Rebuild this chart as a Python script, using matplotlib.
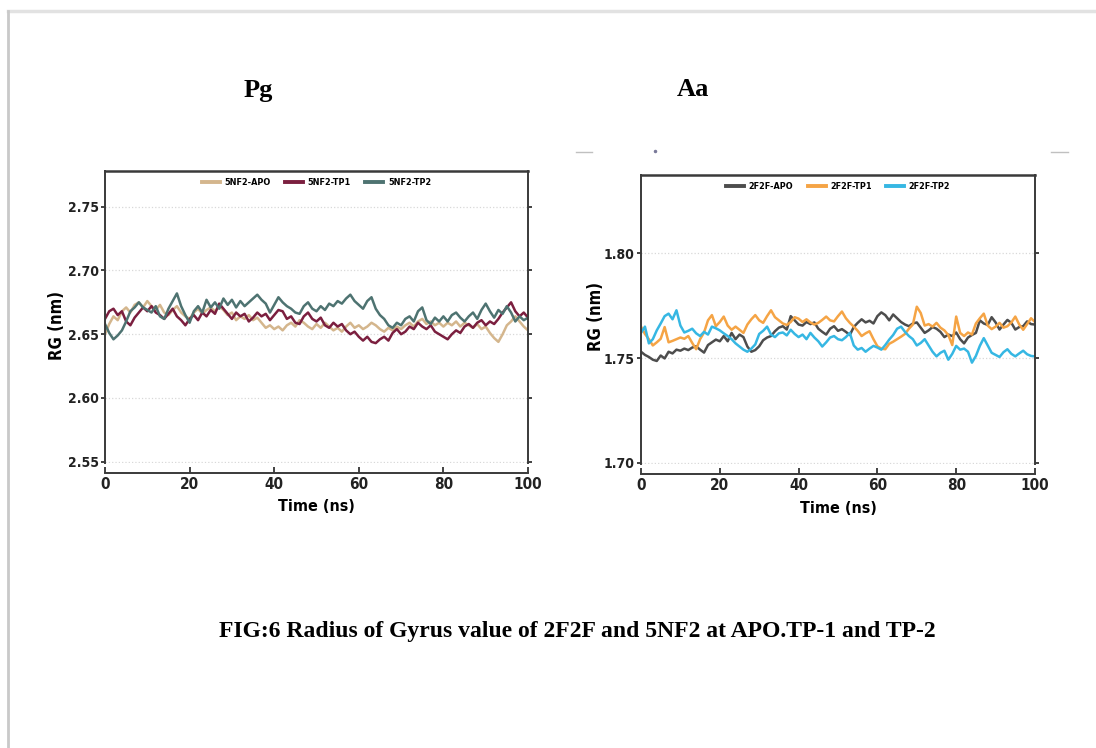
import matplotlib
matplotlib.use("Agg")
import matplotlib.pyplot as plt
from matplotlib.lines import Line2D
import numpy as np

# ---------------- data ----------------
time_ns = list(range(0, 101))

nf2_apo = [2.650, 2.658, 2.664, 2.661, 2.668, 2.671, 2.667, 2.673, 2.675, 2.671,
           2.676, 2.672, 2.669, 2.673, 2.667, 2.665, 2.669, 2.672, 2.667, 2.664,
           2.662, 2.667, 2.670, 2.666, 2.669, 2.671, 2.668, 2.672, 2.669, 2.665,
           2.667, 2.661, 2.664, 2.662, 2.665, 2.661, 2.663, 2.659, 2.655, 2.657,
           2.654, 2.656, 2.653, 2.657, 2.659, 2.656, 2.661, 2.659, 2.656, 2.654,
           2.658, 2.655, 2.659, 2.656, 2.653, 2.655, 2.652, 2.656, 2.659, 2.655,
           2.657, 2.654, 2.656, 2.659, 2.657, 2.654, 2.652, 2.655, 2.653, 2.656,
           2.654, 2.657, 2.659, 2.656, 2.660, 2.662, 2.658, 2.660, 2.657, 2.659,
           2.656, 2.659, 2.657, 2.660, 2.656, 2.659, 2.657, 2.655, 2.658, 2.654,
           2.656, 2.651, 2.647, 2.644, 2.650, 2.657, 2.660, 2.664, 2.660, 2.656,
           2.653]

nf2_tp1 = [2.662, 2.668, 2.670, 2.665, 2.668, 2.660, 2.657, 2.663, 2.667, 2.671,
           2.668, 2.672, 2.667, 2.665, 2.662, 2.666, 2.670, 2.664, 2.661, 2.657,
           2.662, 2.665, 2.661, 2.667, 2.664, 2.669, 2.666, 2.674, 2.670, 2.666,
           2.662, 2.667, 2.664, 2.666, 2.660, 2.663, 2.667, 2.664, 2.666, 2.661,
           2.665, 2.669, 2.668, 2.662, 2.664, 2.659, 2.658, 2.664, 2.667, 2.662,
           2.660, 2.663, 2.657, 2.655, 2.659, 2.656, 2.658, 2.653, 2.650, 2.652,
           2.648, 2.645, 2.648, 2.644, 2.643, 2.646, 2.648, 2.645, 2.651, 2.654,
           2.650, 2.652, 2.656, 2.654, 2.659, 2.656, 2.654, 2.657, 2.652, 2.650,
           2.648, 2.646, 2.650, 2.653, 2.651, 2.656, 2.658, 2.655, 2.659, 2.661,
           2.657, 2.660, 2.658, 2.662, 2.667, 2.671, 2.675, 2.668, 2.664, 2.667,
           2.663]

nf2_tp2 = [2.658, 2.651, 2.646, 2.649, 2.653, 2.660, 2.668, 2.671, 2.675, 2.671,
           2.669, 2.667, 2.672, 2.664, 2.662, 2.670, 2.676, 2.682, 2.672, 2.665,
           2.659, 2.668, 2.672, 2.667, 2.677, 2.671, 2.675, 2.670, 2.678, 2.673,
           2.677, 2.671, 2.676, 2.672, 2.675, 2.678, 2.681, 2.677, 2.674, 2.667,
           2.673, 2.679, 2.675, 2.672, 2.670, 2.667, 2.666, 2.672, 2.675, 2.670,
           2.668, 2.672, 2.669, 2.674, 2.672, 2.676, 2.674, 2.678, 2.681, 2.676,
           2.673, 2.670, 2.676, 2.679, 2.670, 2.665, 2.662, 2.657, 2.655, 2.659,
           2.657, 2.662, 2.664, 2.660, 2.668, 2.671, 2.661, 2.658, 2.663, 2.660,
           2.664, 2.660, 2.665, 2.667, 2.663, 2.660, 2.664, 2.667, 2.662, 2.669,
           2.674, 2.668, 2.663, 2.669, 2.666, 2.672, 2.667, 2.660, 2.664, 2.661,
           2.663]

f2f_apo = [1.7530, 1.7515, 1.7505, 1.7492, 1.7486, 1.7512, 1.7498, 1.7530, 1.7522, 1.7540,
           1.7535, 1.7545, 1.7538, 1.7550, 1.7556, 1.7540, 1.7526, 1.7562, 1.7575, 1.7588,
           1.7580, 1.7605, 1.7580, 1.7620, 1.7590, 1.7612, 1.7600, 1.7555, 1.7530, 1.7538,
           1.7556, 1.7585, 1.7598, 1.7605, 1.7628, 1.7645, 1.7652, 1.7636, 1.7700, 1.7680,
           1.7660, 1.7655, 1.7672, 1.7662, 1.7670, 1.7640, 1.7625, 1.7612, 1.7640, 1.7652,
           1.7630, 1.7638, 1.7625, 1.7610, 1.7648, 1.7668, 1.7685, 1.7670, 1.7678, 1.7665,
           1.7700, 1.7718, 1.7705, 1.7680, 1.7708, 1.7690, 1.7672, 1.7660, 1.7652, 1.7665,
           1.7670, 1.7645, 1.7620, 1.7632, 1.7648, 1.7640, 1.7625, 1.7600, 1.7612, 1.7605,
           1.7622, 1.7590, 1.7570, 1.7598, 1.7610, 1.7620, 1.7680, 1.7665, 1.7658, 1.7695,
           1.7670, 1.7636, 1.7660, 1.7682, 1.7668, 1.7636, 1.7648, 1.7652, 1.7675, 1.7662,
           1.7660]

f2f_tp1 = [1.7650, 1.7615, 1.7590, 1.7560, 1.7575, 1.7592, 1.7648, 1.7575, 1.7582, 1.7590,
           1.7598, 1.7592, 1.7605, 1.7572, 1.7542, 1.7590, 1.7622, 1.7680, 1.7705, 1.7652,
           1.7672, 1.7698, 1.7655, 1.7635, 1.7650, 1.7635, 1.7620, 1.7660, 1.7685, 1.7705,
           1.7680, 1.7668, 1.7700, 1.7728, 1.7695, 1.7680, 1.7665, 1.7658, 1.7672, 1.7695,
           1.7688, 1.7672, 1.7685, 1.7670, 1.7660, 1.7668, 1.7682, 1.7698, 1.7680, 1.7675,
           1.7700, 1.7722, 1.7690, 1.7668, 1.7650, 1.7630, 1.7605, 1.7618, 1.7628, 1.7590,
           1.7556, 1.7545, 1.7542, 1.7568, 1.7578, 1.7590, 1.7602, 1.7615, 1.7640, 1.7660,
           1.7745, 1.7715, 1.7655, 1.7662, 1.7650, 1.7668, 1.7645, 1.7632, 1.7610, 1.7562,
           1.7698, 1.7620, 1.7605, 1.7622, 1.7612, 1.7665, 1.7690, 1.7712, 1.7655, 1.7638,
           1.7650, 1.7668, 1.7645, 1.7652, 1.7670, 1.7698, 1.7660, 1.7635, 1.7662, 1.7690,
           1.7672]

f2f_tp2 = [1.7620, 1.7650, 1.7570, 1.7590, 1.7632, 1.7665, 1.7700, 1.7712, 1.7685, 1.7728,
           1.7655, 1.7622, 1.7630, 1.7640, 1.7618, 1.7605, 1.7625, 1.7612, 1.7650, 1.7642,
           1.7632, 1.7618, 1.7605, 1.7590, 1.7570, 1.7555, 1.7540, 1.7530, 1.7545, 1.7565,
           1.7615, 1.7630, 1.7650, 1.7612, 1.7600, 1.7618, 1.7622, 1.7608, 1.7635, 1.7615,
           1.7600, 1.7612, 1.7590, 1.7620, 1.7598, 1.7580, 1.7555, 1.7575, 1.7598, 1.7605,
           1.7590, 1.7585, 1.7600, 1.7620, 1.7560, 1.7540, 1.7548, 1.7530, 1.7545, 1.7558,
           1.7550, 1.7540, 1.7562, 1.7588, 1.7610, 1.7640, 1.7650, 1.7625, 1.7605, 1.7590,
           1.7560, 1.7572, 1.7590, 1.7560, 1.7530, 1.7508, 1.7525, 1.7535, 1.7492, 1.7520,
           1.7558, 1.7540, 1.7545, 1.7530, 1.7478, 1.7510, 1.7558, 1.7595, 1.7560, 1.7525,
           1.7515, 1.7505, 1.7528, 1.7542, 1.7520, 1.7508, 1.7522, 1.7535, 1.7518, 1.7510,
           1.7508]

left_labels = ["5NF2-APO", "5NF2-TP1", "5NF2-TP2"]
right_labels = ["2F2F-APO", "2F2F-TP1", "2F2F-TP2"]
left_colors = ["#D4B68D", "#7B1F3F", "#4E7371"]
right_colors = ["#4D4D4D", "#F5A445", "#36B7E3"]
left_yticks = [2.55, 2.60, 2.65, 2.70, 2.75]
right_yticks = [1.70, 1.75, 1.80]
xticks = [0, 20, 40, 60, 80, 100]

panel_titles = ["Pg", "Aa"]
caption = "FIG:6 Radius of Gyrus value of 2F2F and 5NF2 at APO.TP-1 and TP-2"

# ---------------- figure ----------------
W, H = 1096, 748
fig = plt.figure(figsize=(W / 100, H / 100), dpi=100)
fig.patch.set_facecolor("white")

SANS = dict(family="DejaVu Sans", fontweight="bold", fontstretch="condensed")


def px_rect(x0, y0, x1, y1):
    return [x0 / W, 1 - y1 / H, (x1 - x0) / W, (y1 - y0) / H]


def style_axes(ax, yticks, ylim, series, labels, colors, ylab_xy, xlab_xy):
    for y, lab, c in zip(series, labels, colors):
        ax.plot(time_ns, y, color=c, lw=1.8, label=lab)
    ax.set_xlim(0, 100)
    ax.set_ylim(*ylim)
    ax.set_xticks(xticks)
    ax.set_yticks(yticks)
    ax.set_yticklabels([f"{v:.2f}" for v in yticks])
    ax.yaxis.grid(True, color="#d8d8d8", ls=":", lw=0.9)
    ax.set_axisbelow(True)
    for s in ax.spines.values():
        s.set_color("#3a3a3a")
        s.set_linewidth(1.4)
    ax.spines["top"].set_linewidth(1.8)
    ax.spines["bottom"].set_position(("outward", 7))
    ax.tick_params(axis="x", direction="in", length=4, width=1.2, pad=3,
                   colors="#222222", labelsize=11)
    ax.tick_params(axis="y", direction="out", length=3, width=1.2, pad=1.5,
                   left=True, right=True, colors="#222222", labelsize=10)
    for t in ax.get_xticklabels() + ax.get_yticklabels():
        t.set_fontweight("bold")
        t.set_fontstretch("condensed")
    ax.set_ylabel("RG (nm)", fontsize=12, **SANS)
    ax.yaxis.set_label_coords(*ylab_xy)
    ax.set_xlabel("Time (ns)", fontsize=11.5, **SANS)
    ax.xaxis.set_label_coords(*xlab_xy)
    leg = ax.legend(loc="upper center", bbox_to_anchor=(0.5, 1.0), ncol=3,
                    frameon=False, handlelength=2.0, handletextpad=0.5,
                    columnspacing=1.6, borderaxespad=0.4,
                    prop=dict(family="DejaVu Sans", weight="bold",
                              stretch="condensed", size=6.5))
    for h in leg.get_lines():
        h.set_linewidth(2.8)


axL = fig.add_axes(px_rect(105, 171, 528, 463))
style_axes(axL, left_yticks, (2.549, 2.778), [nf2_apo, nf2_tp1, nf2_tp2],
           left_labels, left_colors, (-0.092, 0.47), (0.5, -0.122))

axR = fig.add_axes(px_rect(641, 175, 1035, 464))
style_axes(axR, right_yticks, (1.6994, 1.8374), [f2f_apo, f2f_tp1, f2f_tp2],
           right_labels, right_colors, (-0.092, 0.51), (0.5, -0.128))

# panel titles and caption
SERIF = dict(family="Liberation Serif", fontweight="bold")
fig.text(258 / W, 1 - 90 / H, panel_titles[0], ha="center", va="center",
         fontsize=19, **SERIF)
fig.text(693 / W, 1 - 90 / H, panel_titles[1], ha="center", va="center",
         fontsize=19, **SERIF)
fig.text(577 / W, 1 - 632 / H, caption, ha="center", va="center",
         fontsize=17, **SERIF)

# page border / crop marks (decorative, from the scanned page)
fig.add_artist(Line2D([8 / W, 1.0], [1 - 11 / H, 1 - 11 / H],
                      color="#e2e2e2", lw=2.5, transform=fig.transFigure))
fig.add_artist(Line2D([8 / W, 8 / W], [0.0, 1 - 11 / H],
                      color="#c9c9c9", lw=2.0, transform=fig.transFigure))
for x0, x1 in [(576, 592), (1051, 1068)]:
    fig.add_artist(Line2D([x0 / W, x1 / W], [1 - 152 / H, 1 - 152 / H],
                          color="#c0c0c0", lw=1.0, transform=fig.transFigure))
fig.add_artist(Line2D([655 / W], [1 - 151 / H], marker="o", ms=1.5,
                      color="#7a7a9a", transform=fig.transFigure))

fig.savefig("out.png", dpi=100, facecolor="white")
